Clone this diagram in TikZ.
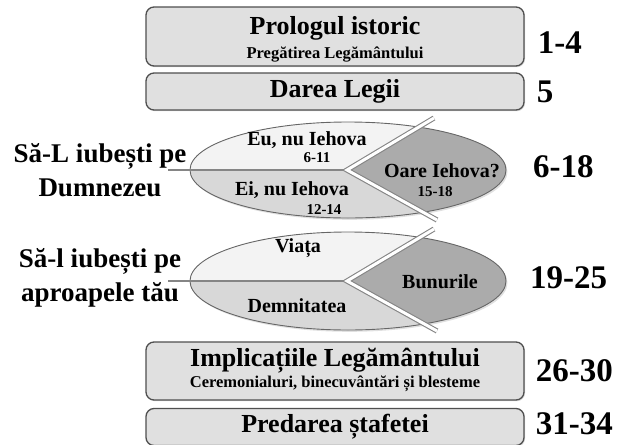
\documentclass[tikz,border=0pt]{standalone}
\usepackage{fontspec}
\setmainfont{Liberation Serif}
\usetikzlibrary{positioning, shadows}

\definecolor{boxgray}{HTML}{E0E0E0}
\definecolor{edgegray}{HTML}{4F4F4F}
\definecolor{lightpart}{HTML}{F3F3F3}
\definecolor{midpart}{HTML}{D8D8D8}
\definecolor{darkpart}{HTML}{ABABAB}
\definecolor{seamgray}{HTML}{858585}

\tikzstyle{section} = [rectangle, rounded corners=8pt, minimum width=378pt,
    text centered, draw=edgegray, line width=1.3pt, fill=boxgray, inner sep=0pt,
    drop shadow={shadow xshift=1pt, shadow yshift=-1.2pt, opacity=0.3}]
\tikzstyle{boxtitle} = [font=\fontsize{26}{28}\selectfont\bfseries, inner sep=0pt]
\tikzstyle{boxsub} = [font=\fontsize{16.5}{18}\selectfont\bfseries, inner sep=0pt]
\tikzstyle{versnr} = [font=\fontsize{33}{33}\selectfont\bfseries, inner sep=0pt, anchor=west]
\tikzstyle{sidetext} = [font=\fontsize{27}{34}\selectfont\bfseries, align=center, inner sep=0pt]
\tikzstyle{parttext} = [font=\fontsize{20}{20}\selectfont\bfseries, inner sep=0pt]
\tikzstyle{partnr} = [font=\fontsize{15}{15}\selectfont\bfseries, inner sep=0pt]
\tikzstyle{fishedge} = [draw=gray!80!black, line width=0.9pt]
\tikzstyle{divider} = [draw=seamgray, line width=2pt]
\tikzstyle{seam} = [draw=seamgray, line width=1.1pt, double=white, double distance=3pt]

\begin{document}
\begin{tikzpicture}[x=1pt, y=-1pt]
\useasboundingbox (0,0) rectangle (630,445);

% Boxes
\node (pro) [section, minimum height=59pt] at (335,36.5) {};
\node (protitle) [boxtitle] at (335,28) {Prologul istoric};
\node (prosub) [boxsub] at (335,55) {Pregătirea Legământului};
\node (darea) [section, minimum height=37pt, boxtitle] at (335,91.5) {Darea Legii};
\node (impl) [section, minimum height=58pt] at (335,371) {};
\node (impltitle) [boxtitle] at (335,361) {Implicațiile Legământului};
\node (implsub) [boxsub] at (335,384) {Ceremonialuri, binecuvântări și blesteme};
\node (pred) [section, minimum height=37pt, boxtitle] at (335,427) {Predarea ștafetei};

% Fishes
\foreach \cy/\ry in {170/48, 281/49} {
  \fill[black, opacity=0.12] (349.5,\cy+1.8) ellipse (158 and \ry);
  \begin{scope}
    \clip (348,\cy) ellipse (158 and \ry);
    \fill[darkpart] (180,\cy-60) rectangle (510,\cy+60);
    \fill[lightpart] (180,\cy) -- (347,\cy) -- (478,\cy-78) -- (180,\cy-78) -- cycle;
    \fill[midpart] (180,\cy) -- (347,\cy) -- (482,\cy+75) -- (180,\cy+75) -- cycle;
  \end{scope}
  \draw[fishedge] (348,\cy) ellipse (158 and \ry);
  \coordinate (stub) at (168,\cy);
  \coordinate (tip) at (347,\cy);
  \coordinate (upend) at (434,\cy-52);
  \coordinate (downend) at (437,\cy+50);
  \draw[divider] (stub) -- (tip);
  \draw[seam] (upend) -- (tip) -- (downend);
}

% Texts in the fishes
\node (eu) [parttext] at (307,140) {Eu, nu Iehova};
\node (eunr) [partnr] at (317,158) {6-11};
\node (ei) [parttext] at (292,190) {Ei, nu Iehova};
\node (einr) [partnr] at (324,210) {12-14};
\node (oare) [parttext] at (442,171) {Oare Iehova?};
\node (oarenr) [partnr] at (435,192) {15-18};
\node (viata) [parttext] at (298,248) {Viața};
\node (bunuri) [parttext] at (440,282) {Bunurile};
\node (demn) [parttext] at (297,306) {Demnitatea};

% Side texts
\node (dumnezeu) [sidetext] at (100,170) {Să-L iubești pe\\Dumnezeu};
\node (aproapele) [sidetext] at (100,278) {Să-l iubești pe\\aproapele tău};

% Verse numbers
\node (nr1) [versnr, right=13pt of pro, yshift=-6pt] {1-4};
\node (nr2) [versnr, right=12pt of darea] {5};
\node (nr3) [versnr] at (533,167) {6-18};
\node (nr4) [versnr] at (530,278) {19-25};
\node (nr5) [versnr, right=11pt of impl] {26-30};
\node (nr6) [versnr, right=11pt of pred, yshift=3pt] {31-34};

\end{tikzpicture}
\end{document}
